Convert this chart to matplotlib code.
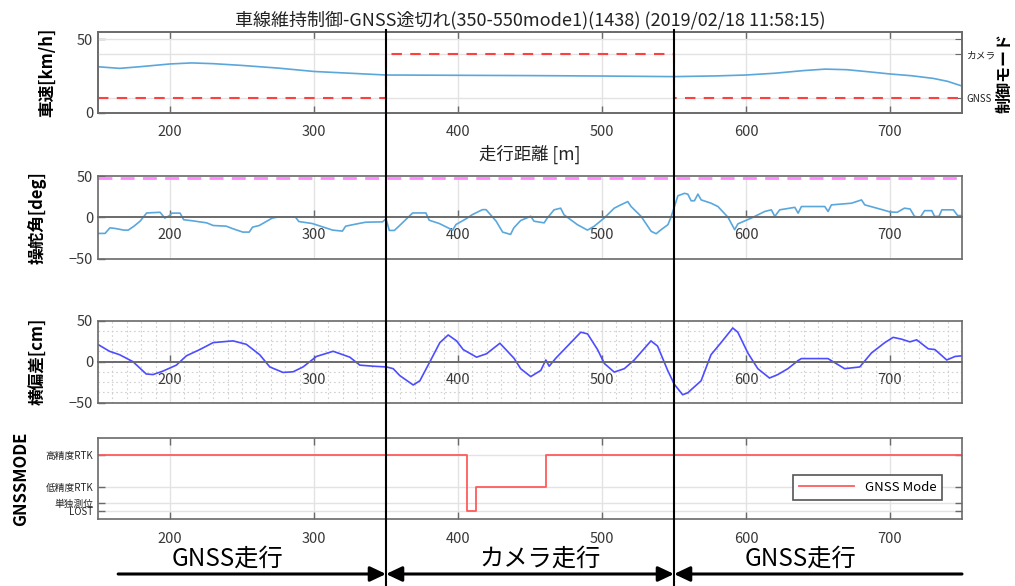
import matplotlib
matplotlib.use('Agg')
import matplotlib.pyplot as plt
from matplotlib.ticker import MultipleLocator
from matplotlib.lines import Line2D
from matplotlib.transforms import blended_transform_factory

plt.rcParams['font.family'] = ['Noto Sans CJK JP', 'DejaVu Sans']

# データ
speed_x = [150, 165, 180, 200, 215, 230, 250, 275, 300, 325, 350, 400, 450, 500, 550,
           580, 600, 620, 640, 655, 670, 685, 700, 715, 730, 740, 750]
speed_v = [31.4, 30.3, 31.5, 33.3, 34.0, 33.5, 32.3, 30.5, 28.2, 27.0, 25.8, 25.6, 25.4,
           25.1, 24.7, 25.2, 25.8, 27.0, 28.8, 29.8, 29.4, 28.0, 26.5, 25.3, 23.5, 21.5, 18.3]

mode_x = [150, 350, 350, 550, 550, 750]
mode_v = [10, 10, 40, 40, 10, 10]

steer_x = [150, 154.9, 158.3, 162, 167.9, 171, 175, 179.2, 183.8, 193.1, 196.4, 199.7, 201.2,
           207, 209.5, 216, 225.5, 230, 239, 243.8, 250.6, 255, 257.3, 262, 271, 275.5, 287,
           289.5, 298.8, 308, 313, 319.7, 322, 331, 336, 347.6, 350, 352.3, 355.8, 359, 368.5,
           377.7, 380, 387, 396.3, 398.6, 405.5, 410, 417, 419.5, 426.5, 431, 436.5, 438.8,
           443.5, 450.5, 452.8, 459.8, 462, 466.7, 471.3, 473.6, 482.9, 489.9, 494.5, 501.5,
           508.5, 513, 517.9, 520.2, 527.2, 534.1, 537.6, 541.1, 545.8, 548.1, 552.7, 557.3,
           559.6, 561.9, 564.2, 566.6, 568.9, 575.8, 580.5, 587.5, 592.1, 594.4, 603.7, 613,
           617.6, 620, 623.4, 633.9, 636.2, 638.5, 654.7, 657, 659.3, 673.2, 680.2, 682.5, 695,
           700, 705, 710, 714, 717, 721, 724, 729, 731, 734, 736, 744, 747, 750]
steer_v = [-19.6, -19.6, -12.8, -13.6, -15.6, -15.6, -10.8, -4.8, 5.2, 6, -1, 2, 5,
           5, -3, -4.4, -6.8, -10, -10.8, -14, -18, -18, -12, -10, -1, 0.4, 0.4,
           -5.2, -7.6, -12.8, -15.6, -16.8, -10.8, -7.6, -6, -5.6, -2, -16, -16, -10.8, 5.2,
           5.2, -3.6, -7.6, -15.6, -8.8, -2, 3.2, 9.2, 9.2, -4.8, -18, -20.8, -12.8,
           -4, 1.2, -4.8, -6.8, -1, 9, 11, 3, -9, -15.6, -11, -1,
           11, 15, 19, 13, 1, -17, -20, -15, -9, 1, 26, 29,
           28, 20, 20, 28, 21, 17, 13, 0, -15, -8, -1, 7,
           9, 1, 9, 12, 5, 13, 13, 7, 15, 17, 21, 15, 9,
           6.4, 6, 11, 10, 1, 0, 8, 8, 1, 1, 9, 9, 2, 2]
steer_limit = 47

lat_x = [150, 158, 165, 174.3, 183.5, 188.2, 195.2, 204.4, 211.4, 220.7, 230, 243.8, 253,
         262.3, 269.3, 278.5, 285.5, 292.4, 301.7, 313.3, 324.9, 331.8, 341.1, 350.4, 355,
         359.6, 368.9, 373.5, 380.5, 387.4, 393.2, 399, 403.6, 412.9, 419.8, 429.1, 438.9,
         443.5, 450.5, 457.5, 461, 463.3, 467.9, 476, 485.3, 490, 496.9, 501.6, 508.5, 515.5,
         522.4, 534, 538.6, 545.6, 550.2, 556, 559.5, 568.8, 575.7, 582.7, 590.8, 594.3,
         601.3, 608.2, 616.3, 622.1, 629.1, 636.1, 638.4, 656.9, 668.5, 679, 687.1, 696.4,
         702.2, 708, 713.8, 718.5, 726.6, 731.2, 739.4, 745.2, 750]
lat_v = [21, 12.7, 8.5, 0, -15, -15.7, -11.4, -4.2, 7.2, 14.8, 23.3, 25.4, 21.2,
         8.5, -6.4, -13.1, -12.3, -6.4, 6.4, 12.7, 5.5, -4.2, -5.5, -6.4, -8.5,
         -17, -28.4, -23.3, 0, 23.3, 32.6, 25.4, 14.8, 5.5, 9.7, 22.5, 4.2,
         -8.5, -18.2, -10.6, 2.1, -5.5, 4.2, 19, 36, 33.9, 14.8, -2.1, -12.7, -8.5,
         2.1, 25.4, 19, -10.6, -27.5, -40.3, -38, -23.3, 8.5, 23.3, 41.1, 36,
         10.6, -8.5, -19.9, -15.7, -8.5, 1.3, 3.8, 3.8, -8.5, -6.4, 10.6, 23.3,
         29.7, 27.5, 24.2, 26.7, 15.7, 14.8, 2.1, 6.4, 7.2]

gnss_x = [150, 406.4, 406.4, 412.2, 412.2, 460.8, 460.8, 750]
gnss_v = [8, 8, 1, 1, 4, 4, 8, 8]
gnss_ticks = [1, 2, 4, 8]
gnss_labels = ['LOST', '単独測位', '低精度RTK', '高精度RTK']

x_ticks = [200, 300, 400, 500, 600, 700]

frame = '#6a6a6a'
tick_c = '#383838'
grid_c = '#e3e3e3'

fig = plt.figure(figsize=(10.15, 5.86), dpi=100)
W, H = 1015, 586


def pos(l, t, r, b):
    return [l / W, 1 - b / H, (r - l) / W, (b - t) / H]


ax1 = fig.add_axes(pos(98, 32, 962, 113))
ax2 = fig.add_axes(pos(98, 176, 962, 258.5))
ax3 = fig.add_axes(pos(98, 320.7, 962, 402.7))
ax4 = fig.add_axes(pos(98, 438.3, 962, 519.3))

for ax in (ax1, ax2, ax3, ax4):
    ax.set_xlim(150, 750)
    ax.set_xticks(x_ticks)
    for s in ax.spines.values():
        s.set_color(frame)
        s.set_linewidth(1.2)
    ax.tick_params(direction='in', colors=frame, labelcolor=tick_c, labelsize=10.5,
                   length=5, width=1)
    ax.xaxis.grid(True, color=grid_c, lw=1)
    ax.set_axisbelow(True)

# 車速
ax1.plot(speed_x, speed_v, color='#5aa7dc', lw=1.2)
ax1.set_ylim(0, 55)
ax1.set_yticks([0, 50])
ax1.tick_params(axis='x', top=True, pad=9)
ax1.set_ylabel('車速[km/h]', fontsize=12, fontweight='bold')
ax1.yaxis.set_label_coords(-0.0486, 0.5)
ax1.set_xlabel('走行距離 [m]', fontsize=12.5, labelpad=4, color='#222222')
ax1.set_title('車線維持制御-GNSS途切れ(350-550mode1)(1438) (2019/02/18 11:58:15)',
              fontsize=13, pad=5, color='#222222')
ax1r = ax1.twinx()
ax1r.set_ylim(0, 55)
ax1r.set_yticks([10, 40, 50])
ax1r.set_yticklabels(['GNSS', 'カメラ', ''])
ax1r.tick_params(direction='in', colors=frame, labelcolor='#222222', labelsize=7, length=5)
ax1r.yaxis.grid(True, color=grid_c, lw=1)
ax1r.set_axisbelow(True)
for s in ax1r.spines.values():
    s.set_color(frame)
    s.set_linewidth(1.2)
ax1r.plot(mode_x, mode_v, color='#ff4040', lw=1.5, dashes=(5, 4))
fig.text(997 / W, 1 - 73 / H, '制御モード', rotation=90, fontsize=11.5, fontweight='bold',
         ha='left', va='center')

# 操舵角
ax2.plot(steer_x, steer_v, color='#5aa7dc', lw=1.2)
ax2.axhline(steer_limit, color='#ff88ff', lw=2, dashes=(5, 3))
ax2.set_ylim(-50, 50)
ax2.set_yticks([-50, 0, 50])
ax2.set_ylabel('操舵角[deg]', fontsize=12, fontweight='bold')
ax2.yaxis.set_label_coords(-0.060, 0.5)

# 横偏差
ax3.plot(lat_x, lat_v, color='#4d4dff', lw=1.2)
ax3.set_ylim(-50, 50)
ax3.set_yticks([-50, 0, 50])
ax3.xaxis.set_minor_locator(MultipleLocator(10))
ax3.yaxis.set_minor_locator(MultipleLocator(12.5))
ax3.grid(True, which='minor', color='#d0d0d0', lw=0.8, ls=(0, (1.5, 2.5)))
ax3.tick_params(which='minor', length=0)
ax3.set_ylabel('横偏差[cm]', fontsize=12, fontweight='bold')
ax3.yaxis.set_label_coords(-0.060, 0.5)

for ax in (ax2, ax3):
    ax.spines['bottom'].set_position(('data', 0))
    ax.spines['bottom'].set_linewidth(1.4)
    ax.axhline(-50, color=frame, lw=1.2, clip_on=False, zorder=3)
    ax.tick_params(axis='x', pad=8)

# GNSSMODE
ax4.plot(gnss_x, gnss_v, color='#ff5a5a', lw=1.3, label='GNSS Mode')
ax4.set_ylim(0, 10)
ax4.set_yticks(gnss_ticks)
ax4.set_yticklabels(gnss_labels, fontsize=7, color='#222222')
ax4.tick_params(axis='y', right=True)
ax4.tick_params(axis='x', top=True, pad=9)
ax4.yaxis.grid(True, color=grid_c, lw=1)
ax4.set_ylabel('GNSSMODE', fontsize=12, fontweight='bold')
ax4.yaxis.set_label_coords(-0.0787, 0.5)
leg = ax4.legend(loc='lower right', bbox_to_anchor=(0.977, 0.238), borderaxespad=0,
                 fancybox=False, edgecolor='#555555', fontsize=9.5, handlelength=4.2,
                 borderpad=0.45, framealpha=1)
leg.get_frame().set_linewidth(1.2)

# 区間の縦線と矢印
tr = blended_transform_factory(ax1.transData, fig.transFigure)
for xv in (350, 550):
    fig.add_artist(Line2D([xv, xv], [0, 1 - 30 / H], transform=tr, color='black', lw=1.5))

ay = 1 - 574 / H
arrows = [(164, 350, '-|>'), (350, 550, '<|-|>'), (550, 750, '<|-')]
for x0, x1, st in arrows:
    ax4.annotate('', xy=(x1, ay), xytext=(x0, ay), xycoords=('data', 'figure fraction'),
                 textcoords=('data', 'figure fraction'), annotation_clip=False,
                 arrowprops=dict(arrowstyle=st + ',head_length=0.95,head_width=0.45',
                                 color='black', lw=2.2, shrinkA=0, shrinkB=0))

ty = 1 - 559 / H
for xc, s in [(240, 'GNSS走行'), (457, 'カメラ走行'), (638, 'GNSS走行')]:
    ax4.text(xc, ty, s, transform=blended_transform_factory(ax4.transData, fig.transFigure),
             ha='center', va='center', fontsize=17.5)

fig.savefig('out.png', dpi=100)
